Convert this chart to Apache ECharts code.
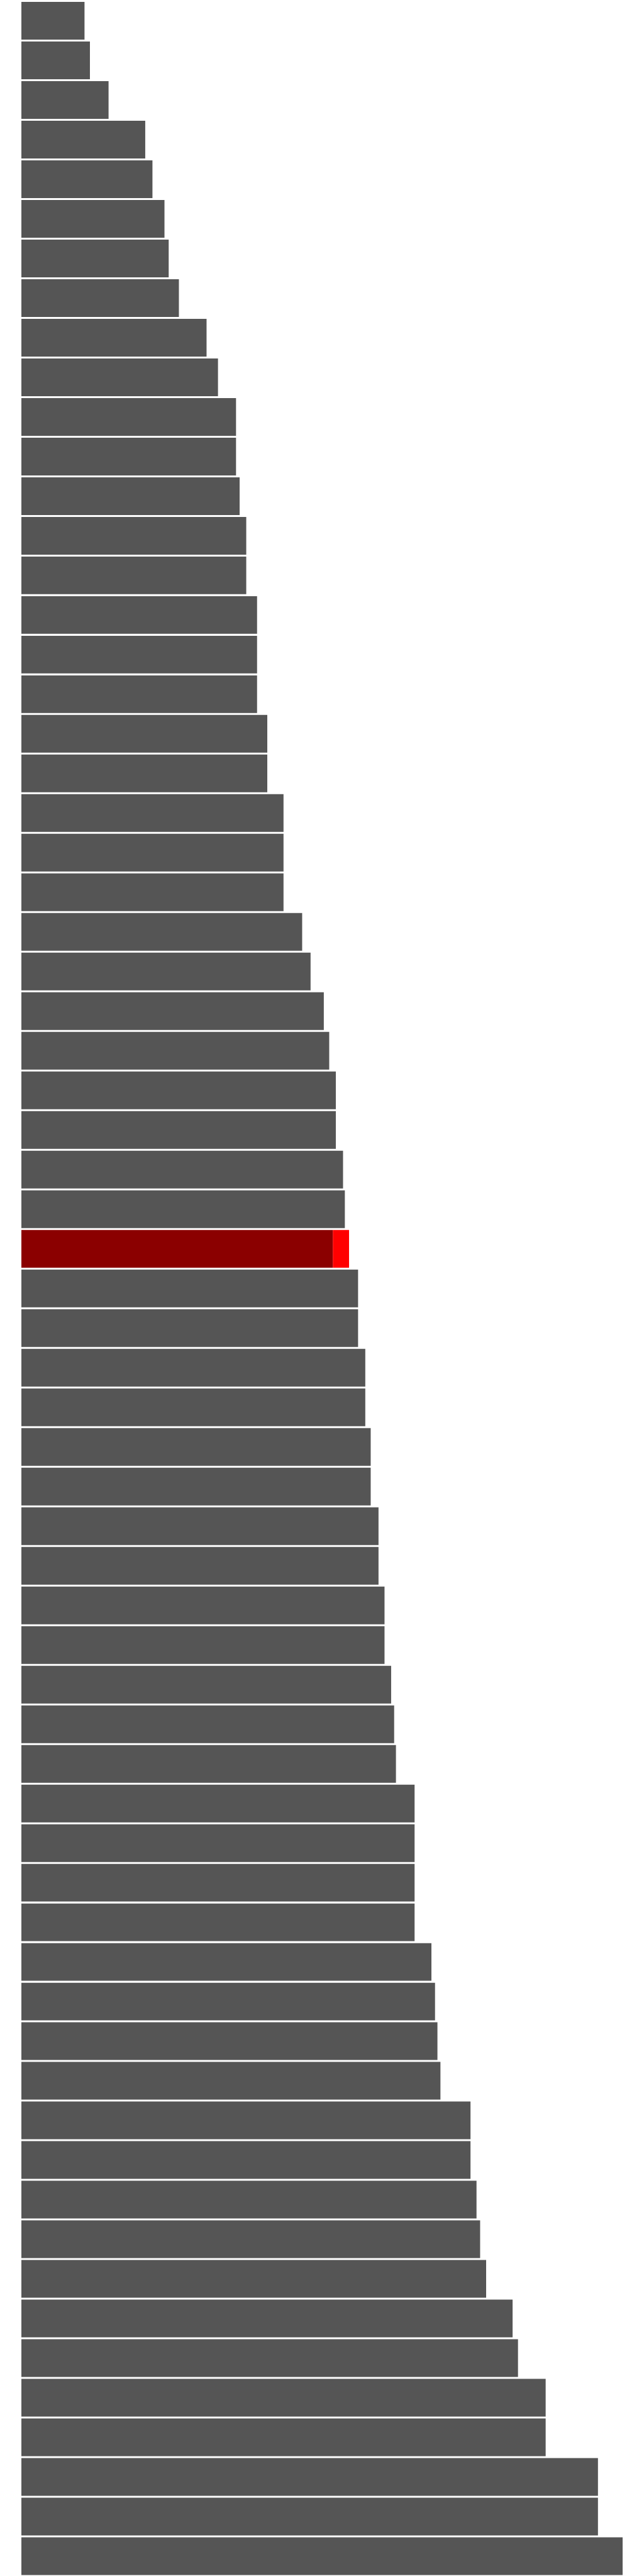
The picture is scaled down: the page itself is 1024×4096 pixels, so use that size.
<!DOCTYPE html>
<html>
<head>
<meta charset="utf-8">
<style>
  html, body { margin: 0; padding: 0; background: #ffffff; }
  #chart { width: 1024px; height: 4096px; }
</style>
<script src="https://cdn.jsdelivr.net/npm/echarts@6/dist/echarts.min.js"></script>
</head>
<body>
<div id="chart"></div>
<script>
// Bar values (top to bottom)
var baseValues = [
  10.5, 11.4, 14.5, 20.6, 21.8, 23.8, 24.5, 26.2, 30.8, 32.7,
  35.7, 35.7, 36.3, 37.4, 37.4, 39.2, 39.2, 39.2, 40.9, 40.9,
  43.6, 43.6, 43.6, 46.7, 48.1, 50.3, 51.2, 52.3, 52.3, 53.5,
  53.8, 51.8, 56.0, 56.0, 57.2, 57.2, 58.1, 58.1, 59.4, 59.4,
  60.4, 60.4, 61.5, 62.0, 62.3, 65.4, 65.4, 65.4, 65.4, 68.2,
  68.8, 69.2, 69.7, 74.7, 74.7, 75.7, 76.3, 77.3, 81.7, 82.6,
  87.2, 87.2, 95.9, 95.9, 100.0
];
// Extra (bright red) segment, only on the highlighted bar
var highlightIndex = 31;
var extraValue = 2.7;

var categories = baseValues.map(function (_, i) { return 'Item ' + (i + 1); });
var extraValues = baseValues.map(function (_, i) { return i === highlightIndex ? extraValue : 0; });

var chart = echarts.init(document.getElementById('chart'), null, { renderer: 'canvas' });
chart.setOption({
  animation: false,
  backgroundColor: '#ffffff',
  grid: { left: 34, right: 34, top: 1.5, height: 4096, containLabel: false },
  xAxis: {
    type: 'value', min: 0, max: 100,
    show: false
  },
  yAxis: {
    type: 'category', data: categories, inverse: true,
    show: false
  },
  series: [
    {
      name: 'base', type: 'bar', stack: 'total',
      barCategoryGap: '4.8%',
      data: baseValues.map(function (v, i) {
        return { value: v, itemStyle: { color: i === highlightIndex ? '#8b0000' : '#555555' } };
      })
    },
    {
      name: 'extra', type: 'bar', stack: 'total',
      barCategoryGap: '4.8%',
      itemStyle: { color: '#ff0000' },
      data: extraValues
    }
  ]
});
</script>
</body>
</html>
